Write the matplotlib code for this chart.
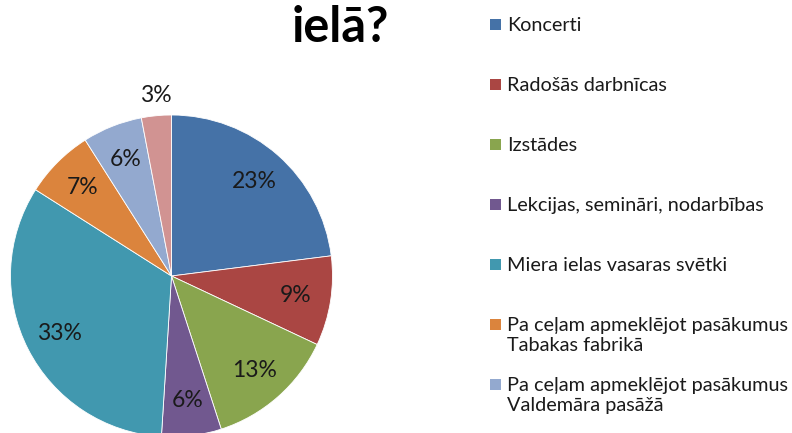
import matplotlib.pyplot as plt
from matplotlib.patches import Rectangle

labels = ["Koncerti", "Radošās darbnīcas", "Izstādes",
          "Lekcijas, semināri, nodarbības", "Miera ielas vasaras svētki",
          "Pa ceļam apmeklējot pasākumus\nTabakas fabrikā",
          "Pa ceļam apmeklējot pasākumus\nValdemāra pasāžā",
          "Citi"]
shares = [23, 9, 13, 6, 33, 7, 6, 3]
colors = ["#4572A7", "#AA4643", "#89A54E", "#71588F",
          "#4198AF", "#DB843D", "#93A9CF", "#D19392"]

W, H = 792, 433
fig = plt.figure(figsize=(W / 100, H / 100), dpi=100)
fig.patch.set_facecolor("white")

# pie axes, centre ~ (171, 276) px, radius ~161 px
r = 161
ax = fig.add_axes([(171.5 - r) / W, (H - 276 - r) / H, 2 * r / W, 2 * r / H])
wedges, texts, autotexts = ax.pie(
    shares, colors=colors, startangle=90, counterclock=False,
    autopct="%d%%", pctdistance=0.78,
    wedgeprops=dict(edgecolor="white", linewidth=0.6),
    textprops=dict(fontsize=16.5, family="Lato", color="#1a1a1a"))
autotexts[-1].set_position((-0.1, 1.12))
ax.set_xlim(-1, 1)
ax.set_ylim(-1, 1)
ax.set_aspect("equal")
ax.axis("off")

fig.text(340 / W, 1 - 28 / H, "ielā?", ha="center", va="center",
         fontsize=35, fontweight="bold", family="Lato")

# legend (8th entry falls below the visible area)
for i, (lab, col) in enumerate(zip(labels, colors)):
    y = 24 + 60 * i
    if y > H:
        break
    fig.patches.append(Rectangle((490 / W, 1 - (y + 6) / H), 11 / W, 11 / H,
                                 transform=fig.transFigure, facecolor=col,
                                 edgecolor="none"))
    fig.text(507 / W, 1 - (y - 7) / H, lab, ha="left", va="top",
             fontsize=14.3, family="Lato", color="#1a1a1a", linespacing=1.2)

fig.savefig("out.png", dpi=100)
